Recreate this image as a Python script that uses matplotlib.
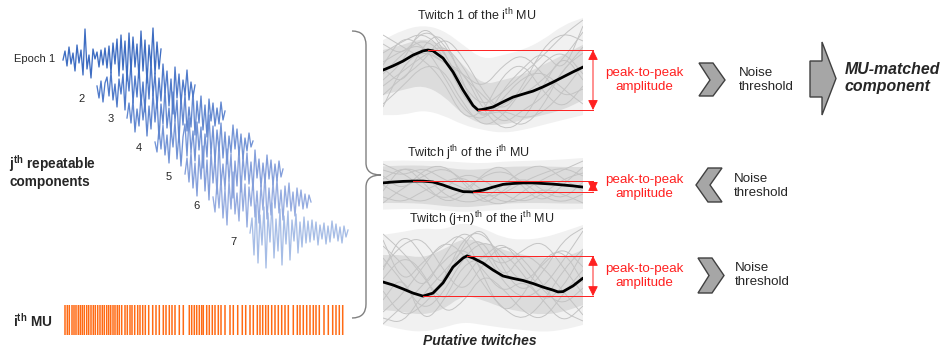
import numpy as np
import matplotlib
matplotlib.use('Agg')
import matplotlib.pyplot as plt
from matplotlib.path import Path
from matplotlib.patches import PathPatch, Polygon

plt.rcParams['font.family'] = ['Liberation Sans', 'DejaVu Sans']
plt.rcParams['mathtext.fontset'] = 'custom'
plt.rcParams['mathtext.rm'] = 'Liberation Sans'
plt.rcParams['mathtext.bf'] = 'Liberation Sans:bold'
plt.rcParams['mathtext.it'] = 'Liberation Sans:italic'

W, H = 943, 349

# ---- epochs of the repeatable component (a.u.)
e1 = [0, 9, -6, 13, -4, 7, -11, 15, -3, 10, -15, 31, -9, 5, -18, 11, 1, 8, -7, 10, -5, 12, -8, 14, -13,
      17, -4, 21, -16, 25, -10, 19, -21, 27, -12, 23, -7, 16, -18, 29, -11, 20, -23, 15, -6, 32, -14, 18, -9, 11]
e2 = [2, -10, 7, -14, 5, 11, -8, 16, -12, 4, -19, 9, -6, 14, -22, 18, -3, 25, -15, 12, -9, 22, -17, 6, -24,
      19, -11, 27, -8, 15, -20, 10, -13, 24, -5, 17, -18, 9, -26, 21, -10, 14, -16, 8, -7, 18, -12, 6, -9, 3]
e3 = [-3, 12, -8, 15, -17, 6, -11, 19, -5, 13, -21, 9, -14, 22, -7, 17, -24, 11, -9, 26, -13, 7, -19, 23, -6,
      15, -27, 18, -10, 21, -16, 8, -12, 24, -20, 14, -8, 19, -15, 10, -22, 16, -6, 12, -11, 7, -9, 13, -5, 4]
e4 = [1, -9, 14, -6, 18, -12, 8, -20, 15, -4, 22, -16, 10, -23, 6, 19, -13, 25, -9, 12, -18, 21, -7, 16, -25,
      9, -14, 28, -11, 17, -19, 13, -8, 20, -15, 11, -21, 7, -10, 18, -6, 14, -12, 9, -16, 5, -8, 10, -4, 2]
e5 = [-2, 14, -10, 20, -16, 9, -24, 17, -7, 26, -19, 12, -28, 21, -11, 15, -22, 30, -13, 8, -17, 23, -9, 18, -26,
      11, -14, 24, -20, 16, -8, 19, -12, 10, -18, 22, -6, 13, -15, 9, -11, 17, -7, 12, -13, 8, -9, 11, -5, 3]
e6 = [3, -12, 17, -8, 22, -18, 11, -25, 19, -9, 28, -14, 7, -21, 24, -11, 16, -27, 13, -6, 20, -17, 9, -23, 15,
      -10, 26, -19, 12, -15, 18, -8, 21, -13, 10, -20, 14, -7, 17, -11, 8, -16, 12, -6, 10, -9, 6, -8, 5, -2]
e7 = [0, 15, -22, 28, -30, 18, -12, 26, -35, 20, -9, 30, -25, 14, -18, 24, -32, 17, -11, 22, -27, 13, -8, 19, -20,
      11, -14, 16, -10, 12, -9, 13, -7, 11, -12, 8, -6, 10, -11, 7, -9, 12, -5, 9, -8, 6, -10, 7, -4, 3]
epochs = [e1, e2, e3, e4, e5, e6, e7]
epoch_labels = ['Epoch 1', '2', '3', '4', '5', '6', '7']
epoch_colors = ['#3E6DC2', '#4F7ACA', '#6187D0', '#7394D6', '#849FDB', '#94ABE0', '#A6BDE6']

# ---- discharge times of the i-th MU
spikes = [0, 2.3, 4.3, 7, 9, 11, 13.3, 15.3, 17.3, 19.3, 21.7, 23.7, 26, 28.3, 30.3, 32.7, 35, 37.3, 39.3, 41.7,
          43.7, 45.7, 48, 50, 52.3, 54.3, 56.7, 60, 62.3, 65, 67, 69.7, 72.7, 75, 77.7, 80.3, 83.7, 87.7, 91,
          94.3, 98.3, 101, 104.3, 107, 110, 114.3, 118.3, 124.3, 126.7, 129.3, 131.7, 134.3, 136.7, 138.3,
          141.7, 144.3, 147.3, 150, 153.3, 156, 160, 165, 168.3, 172.7, 177.3, 180.7, 185, 188.3, 192.3, 195,
          197.7, 200.7, 203.3, 206.7, 210, 213.3, 216.7, 220, 223.3, 228.3, 232.3, 235, 238.3, 241.7, 245,
          248.3, 251, 254.3, 259, 263.3, 267.7, 271, 274.3, 277.7]

# ---- putative twitches (ms, a.u.)
t_grid = [0, 10, 20, 30, 40, 50, 60, 70, 80, 90, 100]

tw1_t = [0, 5, 10, 15, 20, 22.5, 25, 30, 35, 40, 45, 47.5, 50, 55, 60, 65, 70, 75, 80, 85, 90, 95, 100]
tw1_mean = [0.33, 0.47, 0.63, 0.83, 0.97, 1.0, 0.97, 0.73, 0.27, -0.33, -0.85, -1.0, -0.98, -0.9, -0.73,
            -0.57, -0.47, -0.37, -0.23, -0.07, 0.1, 0.27, 0.43]
tw1_out_hi = [1.33, 1.67, 1.83, 1.67, 1.17, 0.67, 0.83, 1.0, 1.33, 1.83, 2.07]
tw1_out_lo = [-1.17, -1.17, -1.0, -1.17, -1.5, -1.67, -1.77, -1.67, -1.5, -1.33, -1.17]
tw1_core_hi = [1.0, 1.17, 1.4, 1.17, 0.5, -0.17, 0.0, 0.17, 0.5, 0.83, 1.17]
tw1_core_lo = [-0.5, -0.33, -0.17, -0.5, -1.17, -1.5, -1.5, -1.33, -1.17, -1.0, -0.67]
tw1_gray = [[0.9, 1.3, 1.6, 1.0, -0.2, -0.9, -0.4, 0.2, 0.8, 1.5, 2.0],
            [-0.2, 0.3, 0.8, 1.2, 0.5, -0.8, -1.5, -1.0, -0.6, 0.3, 1.1],
            [0.6, 1.0, 1.2, 0.2, -1.0, -1.4, -0.6, 0.1, 0.3, -0.3, -0.8],
            [1.2, 0.8, 1.7, 1.3, 0.1, -0.5, -1.2, -1.6, -0.9, 0.4, 0.9],
            [-0.8, -0.2, 0.5, 0.4, -0.8, -1.6, -1.2, -0.3, 0.6, 1.0, 0.2],
            [0.2, 0.9, 1.4, 0.9, -0.6, -1.2, -1.0, -1.3, -1.1, -0.4, 0.5],
            [0.5, 1.5, 1.1, 0.6, 0.2, -0.3, 0.5, 0.9, 0.2, -0.6, -0.3],
            [-0.5, 0.1, 0.6, 1.5, 0.8, -0.4, -1.1, -0.2, 1.1, 1.6, 1.3],
            [0.0, 0.6, 1.9, 1.1, -0.5, -1.3, -0.8, -0.5, 0.0, 0.7, 1.6],
            [1.5, 1.1, 0.7, 0.0, -1.3, -1.1, 0.2, 0.6, -0.4, -1.0, -0.2],
            [-0.9, 0.5, 1.0, 0.6, 0.3, -1.0, -1.7, -1.4, -0.2, 0.9, 0.0],
            [0.4, -0.2, 1.2, 1.6, -0.1, -1.5, -0.3, 0.4, 1.0, 0.2, 1.8]]

tw2_t = [0, 5, 10, 15, 20, 25, 30, 35, 40, 45, 50, 55, 60, 65, 70, 75, 80, 85, 90, 95, 100]
tw2_mean = [0.07, 0.1, 0.12, 0.13, 0.13, 0.1, 0.0, -0.12, -0.22, -0.23, -0.17, -0.07, 0.02, 0.05, 0.07,
            0.07, 0.05, 0.03, 0.0, -0.03, -0.07]
tw2_out_hi = [0.8, 0.82, 0.8, 0.8, 0.75, 0.72, 0.78, 0.8, 0.82, 0.85, 0.9]
tw2_out_lo = [-0.82, -0.8, -0.8, -0.85, -0.9, -0.88, -0.82, -0.8, -0.8, -0.82, -0.8]
tw2_core_hi = [0.62, 0.65, 0.65, 0.6, 0.5, 0.52, 0.6, 0.62, 0.62, 0.6, 0.6]
tw2_core_lo = [-0.6, -0.6, -0.62, -0.7, -0.75, -0.7, -0.62, -0.6, -0.6, -0.62, -0.62]
tw2_gray = [[0.5, 0.3, 0.6, 0.2, -0.1, -0.4, -0.3, 0.1, 0.4, 0.6, 0.3],
            [-0.4, -0.6, -0.2, 0.1, 0.3, -0.2, -0.6, -0.5, -0.1, -0.3, -0.6],
            [0.2, 0.6, 0.4, -0.3, -0.6, -0.5, 0.0, 0.5, 0.7, 0.2, -0.2],
            [-0.6, -0.1, 0.3, 0.6, 0.2, -0.5, -0.7, -0.2, 0.2, 0.5, 0.8],
            [0.7, 0.4, -0.1, -0.5, -0.2, 0.3, 0.5, 0.1, -0.4, -0.6, -0.3],
            [0.0, -0.4, -0.6, -0.2, 0.4, 0.2, -0.3, -0.6, -0.3, 0.2, 0.4],
            [0.3, -0.2, 0.5, 0.7, 0.1, -0.7, -0.2, 0.3, -0.2, -0.5, 0.1],
            [-0.2, 0.7, 0.1, -0.6, -0.4, 0.4, 0.7, -0.1, -0.6, 0.0, 0.6]]

tw3_t = [0, 5, 10, 15, 20, 25, 30, 35, 40, 42, 45, 50, 55, 60, 65, 70, 75, 80, 85, 87.5, 90, 95, 100]
tw3_mean = [-0.2, -0.3, -0.43, -0.57, -0.67, -0.57, -0.23, 0.3, 0.6, 0.67, 0.6, 0.43, 0.2, 0.0, -0.08,
            -0.15, -0.25, -0.37, -0.47, -0.53, -0.52, -0.33, -0.07]
tw3_out_hi = [1.37, 1.47, 1.6, 1.53, 1.8, 1.6, 1.27, 1.2, 1.27, 1.47, 1.7]
tw3_out_lo = [-1.63, -1.8, -1.87, -1.73, -1.53, -1.63, -1.73, -1.8, -1.87, -1.8, -1.63]
tw3_core_hi = [0.7, 0.7, 0.6, 0.87, 1.27, 1.13, 0.87, 0.7, 0.6, 0.6, 0.87]
tw3_core_lo = [-1.13, -1.2, -1.3, -1.13, -0.63, -0.8, -1.07, -1.2, -1.3, -1.2, -0.97]
tw3_gray = [[1.0, 0.4, -0.5, 0.6, 1.6, 0.9, -0.2, -0.8, -0.4, 0.5, 1.5],
            [-1.2, -0.6, 0.3, 1.2, 0.8, -0.3, -1.1, -1.5, -0.9, 0.2, 0.9],
            [0.3, 1.1, 1.3, 0.2, -0.6, 0.4, 1.1, 0.6, -0.3, -1.2, -1.5],
            [-0.5, -1.4, -1.0, -0.2, 1.3, 1.5, 0.5, -0.3, 0.4, 1.0, 0.3],
            [1.4, 0.8, 0.0, -0.9, -0.2, 0.8, 0.3, 0.9, 1.2, 0.3, -0.6],
            [-1.6, -1.0, -0.3, 0.5, 1.0, 0.2, -0.6, -0.1, -0.8, -1.6, -1.0],
            [0.6, -0.2, -1.2, -0.6, 0.6, 1.2, 0.8, 0.1, -0.9, -0.4, 0.8],
            [-0.1, 0.7, 0.2, -1.3, -0.9, 0.1, -0.4, -1.2, -1.5, -0.6, 0.2],
            [0.2, 1.5, 0.7, -0.5, 1.1, 1.7, 0.2, -0.6, 0.1, 1.2, 1.6],
            [-0.8, 0.1, -1.6, -0.9, 0.4, 0.6, 1.2, 0.3, -0.5, -1.0, -0.4],
            [1.2, -0.3, 0.5, 1.0, 1.5, 0.0, -1.3, -0.7, 0.6, 0.9, -0.2],
            [-1.4, -1.6, -0.6, 0.1, 0.9, 1.3, -0.2, 0.8, 0.3, -0.5, -1.3]]

tw_titles = [r'Twitch 1 of the i$^{\mathrm{th}}$ MU',
             r'Twitch j$^{\mathrm{th}}$ of the i$^{\mathrm{th}}$ MU',
             r'Twitch (j+n)$^{\mathrm{th}}$ of the i$^{\mathrm{th}}$ MU']


def px_axes(fig, x0, y0, w, h):
    ax = fig.add_axes([x0 / W, 1 - (y0 + h) / H, w / W, h / H])
    ax.set_facecolor('none')
    ax.axis('off')
    return ax


def smooth_verts(x, y):
    # quadratic curve through the mid-points of the read values
    pts = np.column_stack([x, y])
    mids = (pts[:-1] + pts[1:]) / 2
    verts = [pts[0], mids[0]]
    codes = [Path.MOVETO, Path.LINETO]
    for i in range(1, len(pts) - 1):
        verts += [pts[i], mids[i]]
        codes += [Path.CURVE3, Path.CURVE3]
    verts.append(pts[-1])
    codes.append(Path.LINETO)
    return verts, codes


def smooth_band(ax, x, lo, hi, color):
    v1, c1 = smooth_verts(x, hi)
    v2, c2 = smooth_verts(x[::-1], lo[::-1])
    c2[0] = Path.LINETO
    verts = v1 + v2 + [v1[0]]
    codes = c1 + c2 + [Path.CLOSEPOLY]
    ax.add_patch(PathPatch(Path(verts, codes), facecolor=color, edgecolor='none'))


def twitch_panel(ax, t, mean, out_lo, out_hi, core_lo, core_hi, gray, ylim):
    smooth_band(ax, t_grid, out_lo, out_hi, '#F1F1F1')
    smooth_band(ax, t_grid, core_lo, core_hi, '#DCDCDC')
    for g in gray:
        v, c = smooth_verts(t_grid, g)
        ax.add_patch(PathPatch(Path(v, c), fill=False, color='#C4C4C4', lw=0.7))
    ax.plot(t, mean, color='black', lw=2.0, solid_capstyle='round')
    ihi, ilo = int(np.argmax(mean)), int(np.argmin(mean))
    ax.plot([t[ihi], 105], [mean[ihi]] * 2, color='#FF2020', lw=0.7, clip_on=False)
    ax.plot([t[ilo], 105], [mean[ilo]] * 2, color='#FF2020', lw=0.7, clip_on=False)
    ax.annotate('', xy=(105, mean[ihi]), xytext=(105, mean[ilo]), annotation_clip=False,
                arrowprops=dict(arrowstyle='<|-|>,head_length=0.6,head_width=0.3', color='#FF2020',
                                lw=0.7, shrinkA=0, shrinkB=0, mutation_scale=10))
    ax.set_xlim(0, 100)
    ax.set_ylim(ylim)


fig = plt.figure(figsize=(W / 100, H / 100), dpi=100)

# epochs, stacked in a waterfall
ep_x0 = [3, 37, 67, 95, 125, 153, 190]
ep_y0 = [40, 68, 95, 123, 152, 180, 213]
ax_ep = px_axes(fig, 60, 20, 300, 260)
t_ep = np.arange(len(e1)) * 2
for k, e in enumerate(epochs):
    ax_ep.plot(t_ep + ep_x0[k], np.array(e) - ep_y0[k], color=epoch_colors[k], lw=0.95, zorder=10 - k)
ax_ep.set_xlim(0, 300)
ax_ep.set_ylim(-260, 0)

# spike train
ax_sp = px_axes(fig, 60, 300, 290, 40)
ax_sp.vlines(spikes, 0.125, 0.875, color='#FF6A13', lw=1.1, snap=False)
ax_sp.set_xlim(-5, 285)
ax_sp.set_ylim(0, 1)

# twitch panels
ax1 = px_axes(fig, 383, 14, 200, 132)
twitch_panel(ax1, tw1_t, tw1_mean, tw1_out_lo, tw1_out_hi, tw1_core_lo, tw1_core_hi, tw1_gray, (-2.2, 2.2))
ax2 = px_axes(fig, 383, 155, 200, 60)
twitch_panel(ax2, tw2_t, tw2_mean, tw2_out_lo, tw2_out_hi, tw2_core_lo, tw2_core_hi, tw2_gray, (-1, 1))
ax3 = px_axes(fig, 383, 210, 200, 132)
twitch_panel(ax3, tw3_t, tw3_mean, tw3_out_lo, tw3_out_hi, tw3_core_lo, tw3_core_hi, tw3_gray, (-2.2, 2.2))

# annotation layer in pixel coordinates
ov = px_axes(fig, 0, 0, W, H)
ov.set_xlim(0, W)
ov.set_ylim(H, 0)
dark = '#262626'

ov.text(14, 59, epoch_labels[0], fontsize=8, color=dark, va='center', ha='left')
lab_xy = [(82, 99), (111, 119), (139, 148), (169, 177), (197, 206), (233, 242)]
for lab, (x, y) in zip(epoch_labels[1:], lab_xy):
    ov.text(x, y, lab, fontsize=8, color=dark, va='center', ha='center')

ov.text(9, 171, 'j$^{\\mathbf{th}}$ repeatable\ncomponents', fontsize=9.8, fontweight='bold',
        color=dark, va='center', ha='left', linespacing=1.15)
ov.text(13, 321, 'i$^{\\mathbf{th}}$ MU', fontsize=9.8, fontweight='bold', color=dark, va='center', ha='left')

# brace
bx, by0, by1, bym, tip = 366, 31, 318, 175, 381
bverts = [(352, by0), (bx, by0), (bx, by0 + 14), (bx, bym - 12), (bx, bym), (tip, bym),
          (bx, bym), (bx, bym + 12), (bx, by1 - 14), (bx, by1), (352, by1)]
bcodes = [Path.MOVETO, Path.CURVE3, Path.CURVE3, Path.LINETO, Path.CURVE3, Path.CURVE3,
          Path.CURVE3, Path.CURVE3, Path.LINETO, Path.CURVE3, Path.CURVE3]
ov.add_patch(PathPatch(Path(bverts, bcodes), fill=False, color='#808080', lw=1))

# panel titles
title_xy = [(477, 15), (468, 153), (482, 219)]
for s, (x, y) in zip(tw_titles, title_xy):
    ov.text(x, y, s, fontsize=9, color=dark, ha='center', va='center')
ov.text(480, 341, 'Putative twitches', fontsize=10, fontweight='bold', fontstyle='italic',
        color=dark, ha='center', va='center')

# peak-to-peak labels, chevrons, thresholds
p2p_y = [80, 187, 276]
for y in p2p_y:
    ov.text(644, y, 'peak-to-peak\namplitude', fontsize=9.6, color='#FF2020', ha='center', va='center',
            linespacing=1.2)

chevrons = [[(699, 63), (713, 63), (725, 80), (713, 96), (699, 96), (710, 80)],
            [(722, 168), (708, 168), (696, 185), (708, 202), (722, 202), (710, 185)],
            [(698, 258), (712, 258), (724, 275.5), (712, 293), (698, 293), (709, 275.5)]]
for pts in chevrons:
    ov.add_patch(Polygon(pts, closed=True, facecolor='#A6A6A6', edgecolor='#404040', lw=1))

noise_xy = [(739, 80), (734, 186), (735, 275)]
for x, y in noise_xy:
    ov.text(x, y, 'Noise\nthreshold', fontsize=9.6, color=dark, ha='left', va='center', linespacing=1.2)

big_arrow = [(810, 61), (822, 61), (822, 42), (836, 78.5), (822, 115), (822, 97), (810, 97)]
ov.add_patch(Polygon(big_arrow, closed=True, facecolor='#A6A6A6', edgecolor='#404040', lw=1))
ov.text(845, 78, 'MU-matched\ncomponent', fontsize=11.4, fontweight='bold', fontstyle='italic',
        color=dark, ha='left', va='center', linespacing=1.15)

fig.savefig('out.png', dpi=100)
